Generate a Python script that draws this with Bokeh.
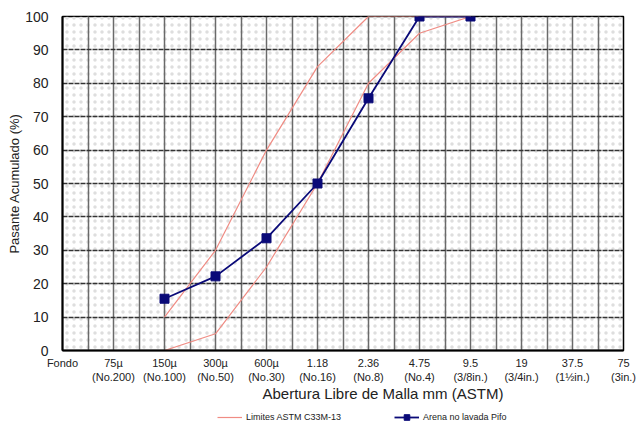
from bokeh.plotting import figure
from bokeh.models import FixedTicker, Legend, LegendItem, ColumnDataSource, Title, Spacer
from bokeh.layouts import column
from bokeh.embed import file_html
from bokeh.resources import INLINE

# Sieve openings (ASTM), from the pan up to 75 mm
sieves = ["Fondo", "75µ\n(No.200)", "150µ\n(No.100)", "300µ\n(No.50)",
          "600µ\n(No.30)", "1.18\n(No.16)", "2.36\n(No.8)", "4.75\n(No.4)",
          "9.5\n(3/8in.)", "19\n(3/4in.)", "37.5\n(1½in.)", "75\n(3in.)"]

# Sieves with data (index into the list above)
data_sieves = [2, 3, 4, 5, 6, 7, 8]

# ASTM C33M-13 grading limits for fine aggregate (% passing)
upper_limit = [10, 30, 60, 85, 100, 100, 100]
lower_limit = [0, 5, 25, 50, 80, 95, 100]

# Sample: unwashed sand from Pifo (% passing)
sample_passing = [15.5, 22.2, 33.6, 50.0, 75.5, 100.0, 100.0]

y_ticks = list(range(0, 101, 10))

FONT = "Liberation Sans"
TXT = "#222222"
LIM_COLOR = "#f08c84"
NAVY = "#0a0a78"
W = 636

# ---- thin black rule across the top of the page
bar = figure(width=W, height=4, output_backend="svg", toolbar_location=None,
             x_axis_type=None, y_axis_type=None, x_range=(0, 1), y_range=(0, 1),
             min_border_top=0, min_border_bottom=0, min_border_left=0,
             min_border_right=0, background_fill_color="black",
             border_fill_color="black", outline_line_color=None)
bar.grid.visible = False
bar.quad(left=0, right=1, bottom=0, top=1, fill_color="black", line_color=None)

# ---- main grading chart (transparent border so nothing above is hidden)
p = figure(width=W, height=401, x_range=(0, len(sieves) - 1), y_range=(0, 100),
           output_backend="svg", toolbar_location=None,
           min_border_left=62, min_border_right=13, min_border_top=9,
           min_border_bottom=58, border_fill_alpha=0)

# stippled background inside the frame
bg = p.quad(left=0, right=len(sieves) - 1, bottom=0, top=100,
            fill_alpha=0, line_alpha=0, hatch_pattern="dot",
            hatch_color="#dedede", hatch_scale=7, hatch_weight=0.5)
bg.level = "image"

p.xaxis.ticker = FixedTicker(ticks=list(range(len(sieves))))
p.xaxis.major_label_overrides = {i: s for i, s in enumerate(sieves)}
p.yaxis.ticker = FixedTicker(ticks=y_ticks)

for ax in (p.xaxis[0], p.yaxis[0]):
    ax.axis_line_color = "black"
    ax.axis_line_width = 2
    ax.major_tick_line_color = None
    ax.minor_tick_line_color = None
    ax.major_label_text_font = FONT
    ax.major_label_text_color = TXT
    ax.axis_label_text_font = FONT
    ax.axis_label_text_color = TXT
    ax.axis_label_text_font_style = "normal"

p.xaxis.major_label_text_font_size = "11px"
p.xaxis.major_label_standoff = 0
p.xaxis.axis_label_standoff = 0

p.yaxis.major_label_text_font_size = "14px"
p.yaxis.major_label_standoff = 8
p.yaxis.axis_label = "Pasante Acumulado (%)"
p.yaxis.axis_label_text_font_size = "13px"
p.yaxis.axis_label_standoff = 0

# x title, set slightly right of the frame centre
x_title = Title(text="Abertura Libre de Malla mm (ASTM)", align="left", offset=200,
                text_font=FONT, text_font_size="15px", text_font_style="normal",
                text_color=TXT, standoff=-5)
p.add_layout(x_title, "below")

# grid: vertical lines every half sieve, dashed horizontal every 10 %
p.xgrid.ticker = FixedTicker(ticks=[i * 0.5 for i in range(2 * (len(sieves) - 1) + 1)])
p.xgrid.grid_line_color = "#6a6a6a"
p.xgrid.grid_line_width = 1.5
p.ygrid.ticker = FixedTicker(ticks=y_ticks)
p.ygrid.grid_line_color = "#333333"
p.ygrid.grid_line_width = 1.5
p.ygrid.grid_line_dash = "5 1"

p.outline_line_color = "black"
p.outline_line_width = 1.5
p.background_fill_color = "white"

src = ColumnDataSource(dict(x=data_sieves, up=upper_limit, lo=lower_limit,
                            s=sample_passing))

p.line("x", "up", source=src, line_color=LIM_COLOR, line_width=1.2)
p.line("x", "lo", source=src, line_color=LIM_COLOR, line_width=1.2)
p.line("x", "s", source=src, line_color=NAVY, line_width=1.8)
p.scatter("x", "s", source=src, marker="square", size=9,
          fill_color=NAVY, line_color=NAVY)

# ---- legend strip under the chart (series drawn out of view; only the keys show)
lg = figure(width=W, height=22, output_backend="svg", toolbar_location=None,
            x_axis_type=None, y_axis_type=None, x_range=(-3, -2), y_range=(0, 1),
            min_border_top=0, min_border_bottom=0, min_border_left=0,
            min_border_right=0, outline_line_color=None)
lg.grid.visible = False
k_lim = lg.line("x", "up", source=src, line_color=LIM_COLOR, line_width=1.2)
k_line = lg.line("x", "s", source=src, line_color=NAVY, line_width=1.8)
k_mark = lg.scatter("x", "s", source=src, marker="square",
                    fill_color=NAVY, line_color=NAVY)

legend = Legend(items=[LegendItem(label="Limites ASTM C33M-13", renderers=[k_lim]),
                       LegendItem(label="Arena no lavada Pifo",
                                  renderers=[k_line, k_mark])],
                location=(155, 6), orientation="horizontal",
                label_text_font=FONT, label_text_font_size="9px",
                label_text_color=TXT, glyph_width=25, glyph_height=14,
                label_standoff=4, spacing=53, padding=0, margin=0,
                border_line_color=None, background_fill_alpha=0)
lg.add_layout(legend, "center")

layout = column(Spacer(width=W, height=3), bar, p, lg, spacing=0)

open("out.html", "w").write(file_html(layout, INLINE))
